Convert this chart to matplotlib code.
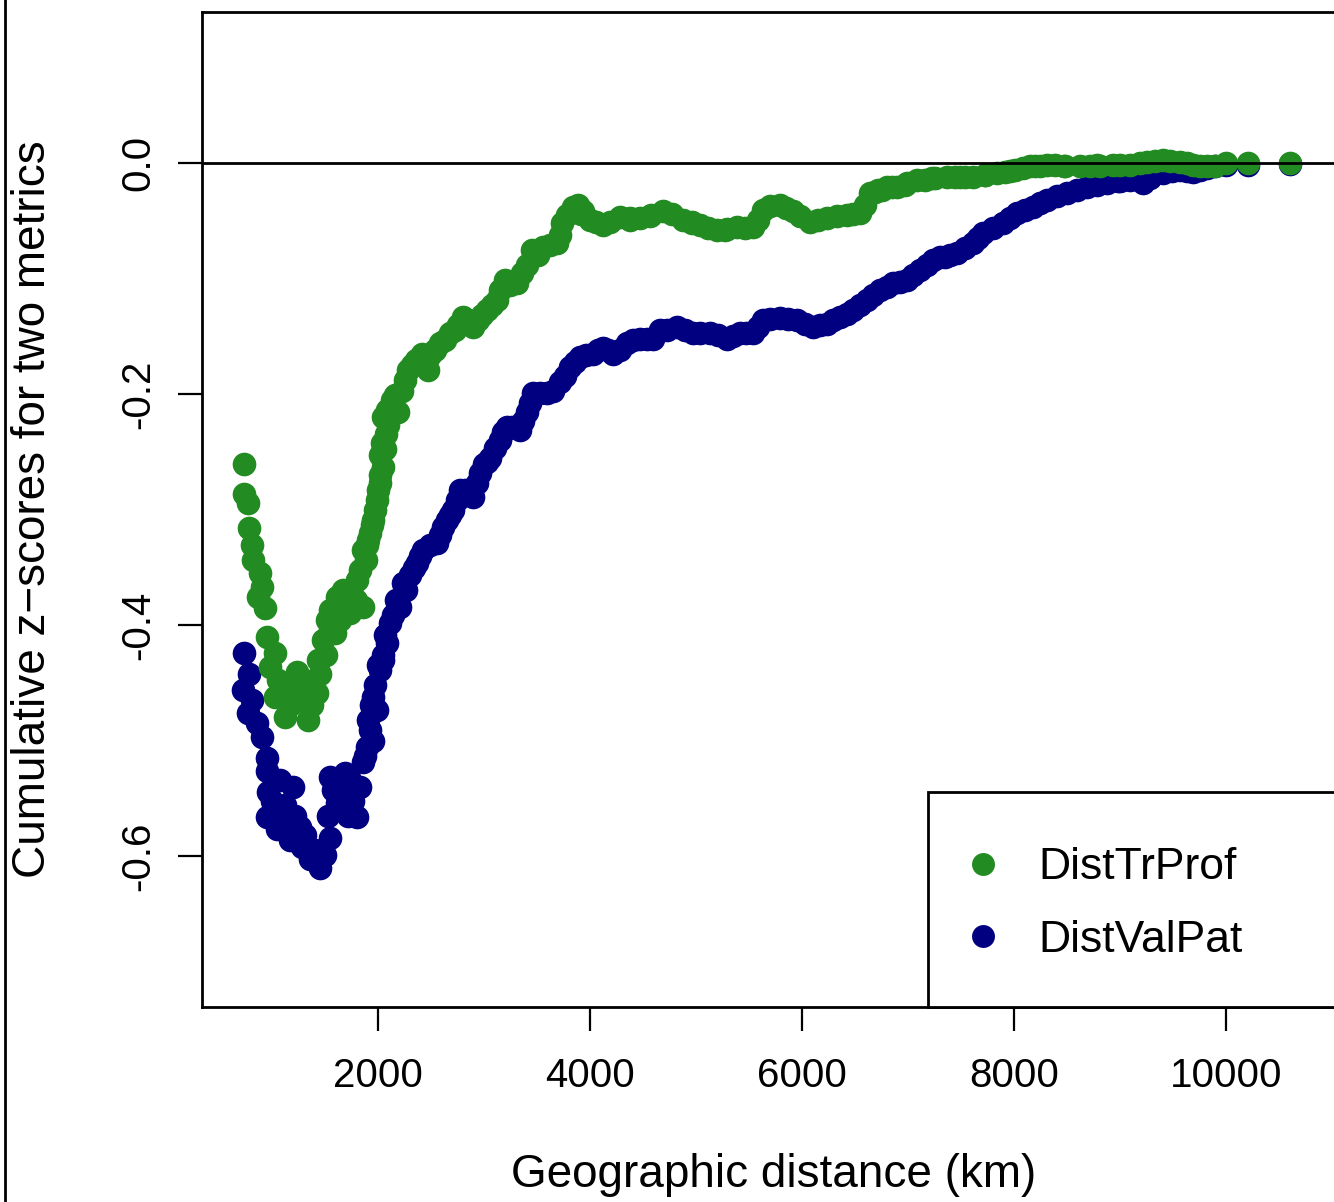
import matplotlib
matplotlib.use("Agg")
import matplotlib.pyplot as plt
from matplotlib.lines import Line2D
from matplotlib.patches import Rectangle

plt.rcParams["font.family"] = ["Liberation Sans", "DejaVu Sans"]
plt.rcParams["axes.unicode_minus"] = False

# cumulative z-scores (distance in km)
dist_tr_prof_x = [
    736, 736, 774, 783, 811, 821, 887, 906, 868, 934,
    953, 1028, 981, 1057, 1028, 1123, 1236, 1264, 1340, 1425,
    1453, 1481, 1519, 1547, 1594, 1613, 1670, 1736, 1802, 1858,
    1858, 1896, 1925, 1953, 1991, 2019, 2019, 2047, 2038, 2047,
    2132, 2189, 2283, 2415, 2472, 2585, 2679, 2802, 2896, 3028,
    3123, 3198, 3311, 3359, 3453, 3557, 3689, 3736, 3840, 3920,
    4000, 4123, 4283, 4380, 4472, 4580, 4689, 4877, 4960, 5038,
    5198, 5290, 5387, 5538, 5632, 5792, 5915, 6075, 6236, 6425,
    6547, 6642, 6717, 6802, 6896, 6990, 7085, 7230, 7368, 7490,
    7613, 7730, 7840, 7960, 8085, 8200, 8311, 8470, 8623, 8780,
    8934, 9094, 9255, 9406, 9566, 9689, 9821, 10000, 10208, 10604,
    1170, 1189, 1292, 1377, 1396, 1434, 1509, 1547, 1642, 1689,
    1755, 1792, 1830, 1887, 1906, 1943, 1972, 2000, 2019, 2066,
    2075, 2094, 2085, 2160, 2226, 2255, 2321, 2359, 2491, 2538,
    2632, 2726, 2755, 2849, 2943, 2981, 3075, 3151, 3245, 3406,
    3509, 3623, 3717, 3783, 3887, 3934, 4057, 4189, 4377, 4566,
    4774, 4962, 5113, 5274, 5462, 5585, 5698, 5849, 5981, 6151,
    6330, 6481, 6594, 6689, 6755, 6849, 6972, 7160, 7255, 7443,
    7538, 7726, 7915, 8009, 8151, 8245, 8387, 8481, 8717, 8811,
    9000, 9189, 9330, 9472, 9632, 9755, 9896,
]
dist_tr_prof_z = [
    -0.261, -0.287, -0.294, -0.316, -0.331, -0.344, -0.355, -0.367, -0.376, -0.385,
    -0.410, -0.424, -0.436, -0.448, -0.462, -0.480, -0.441, -0.465, -0.482, -0.459,
    -0.442, -0.413, -0.396, -0.387, -0.407, -0.376, -0.370, -0.390, -0.361, -0.384,
    -0.335, -0.331, -0.320, -0.309, -0.292, -0.277, -0.253, -0.263, -0.242, -0.220,
    -0.205, -0.216, -0.179, -0.165, -0.179, -0.156, -0.147, -0.133, -0.142, -0.127,
    -0.119, -0.101, -0.104, -0.095, -0.075, -0.073, -0.069, -0.052, -0.038, -0.044,
    -0.049, -0.054, -0.047, -0.049, -0.048, -0.045, -0.042, -0.049, -0.052, -0.054,
    -0.058, -0.057, -0.055, -0.055, -0.041, -0.036, -0.042, -0.051, -0.048, -0.045,
    -0.043, -0.026, -0.023, -0.021, -0.021, -0.017, -0.015, -0.013, -0.012, -0.012,
    -0.012, -0.010, -0.009, -0.007, -0.004, -0.003, -0.002, -0.003, -0.003, -0.002,
    -0.002, -0.002, 0.001, 0.003, 0.001, -0.002, -0.003, 0.000, 0.000, 0.000,
    -0.469, -0.456, -0.452, -0.469, -0.448, -0.430, -0.426, -0.404, -0.396, -0.387,
    -0.374, -0.378, -0.352, -0.344, -0.326, -0.313, -0.300, -0.283, -0.270, -0.248,
    -0.235, -0.227, -0.214, -0.201, -0.197, -0.188, -0.175, -0.171, -0.166, -0.162,
    -0.153, -0.145, -0.140, -0.136, -0.136, -0.132, -0.123, -0.110, -0.106, -0.088,
    -0.080, -0.071, -0.062, -0.045, -0.036, -0.042, -0.051, -0.051, -0.048, -0.046,
    -0.044, -0.051, -0.056, -0.058, -0.056, -0.049, -0.037, -0.039, -0.046, -0.049,
    -0.046, -0.044, -0.036, -0.025, -0.023, -0.021, -0.019, -0.015, -0.013, -0.012,
    -0.012, -0.010, -0.008, -0.006, -0.003, -0.003, -0.002, -0.003, -0.003, -0.003,
    -0.002, 0.000, 0.002, 0.002, 0.000, -0.003, -0.003,
]

dist_val_pat_x = [
    736, 783, 726, 811, 774, 858, 906, 953, 953, 1075,
    962, 1198, 953, 1047, 1170, 1264, 1283, 1358, 1453, 1547,
    1547, 1613, 1689, 1802, 1830, 1858, 1896, 1925, 1953, 1953,
    1991, 2019, 2047, 2085, 2113, 2208, 2236, 2368, 2425, 2557,
    2613, 2708, 2774, 2896, 2962, 3057, 3151, 3217, 3340, 3406,
    3462, 3594, 3717, 3811, 3906, 4028, 4123, 4217, 4349, 4472,
    4594, 4660, 4821, 4972, 5132, 5292, 5415, 5538, 5632, 5792,
    5953, 6104, 6236, 6358, 6481, 6613, 6736, 6858, 6991, 7113,
    7236, 7349, 7462, 7613, 7708, 7896, 8028, 8179, 8311, 8500,
    8689, 8877, 9000, 9094, 9217, 9406, 9566, 9689, 9821, 10000,
    10208, 10604,
    1000, 1123, 1094, 1217, 1311, 1406, 1500, 1528, 1575, 1642,
    1736, 1764, 1717, 1877, 1906, 1934, 1972, 2000, 2047, 2066,
    2142, 2170, 2264, 2302, 2340, 2396, 2491, 2585, 2651, 2679,
    2745, 2821, 2849, 2934, 3000, 3028, 3104, 3179, 3264, 3368,
    3434, 3528, 3651, 3764, 3858, 3962, 4075, 4170, 4283, 4406,
    4538, 4726, 4896, 5038, 5208, 5349, 5472, 5585, 5698, 5868,
    6028, 6170, 6292, 6425, 6547, 6670, 6802, 6925, 7047, 7179,
    7302, 7396, 7538, 7660, 7802, 7962, 8104, 8245, 8406, 8594,
    8783, 8981, 9283, 9491, 9632, 9755, 9896,
]
dist_val_pat_z = [
    -0.424, -0.442, -0.456, -0.465, -0.476, -0.485, -0.497, -0.515, -0.526, -0.534,
    -0.545, -0.540, -0.566, -0.577, -0.586, -0.575, -0.592, -0.603, -0.610, -0.584,
    -0.532, -0.554, -0.528, -0.566, -0.540, -0.519, -0.506, -0.491, -0.462, -0.500,
    -0.474, -0.439, -0.430, -0.416, -0.398, -0.384, -0.364, -0.346, -0.335, -0.329,
    -0.315, -0.300, -0.283, -0.289, -0.268, -0.255, -0.240, -0.229, -0.231, -0.216,
    -0.199, -0.199, -0.190, -0.177, -0.168, -0.165, -0.160, -0.165, -0.156, -0.152,
    -0.152, -0.145, -0.142, -0.147, -0.147, -0.152, -0.147, -0.147, -0.136, -0.134,
    -0.136, -0.142, -0.139, -0.133, -0.127, -0.119, -0.110, -0.104, -0.101, -0.093,
    -0.084, -0.081, -0.078, -0.069, -0.061, -0.052, -0.043, -0.038, -0.032, -0.026,
    -0.021, -0.017, -0.016, -0.015, -0.017, -0.009, -0.006, -0.008, -0.004, -0.002,
    -0.002, -0.001,
    -0.552, -0.556, -0.573, -0.565, -0.582, -0.595, -0.599, -0.565, -0.543, -0.539,
    -0.534, -0.552, -0.565, -0.513, -0.482, -0.469, -0.452, -0.435, -0.426, -0.409,
    -0.391, -0.378, -0.370, -0.357, -0.351, -0.340, -0.331, -0.322, -0.309, -0.305,
    -0.292, -0.283, -0.287, -0.277, -0.261, -0.259, -0.247, -0.233, -0.229, -0.223,
    -0.208, -0.199, -0.197, -0.184, -0.172, -0.166, -0.162, -0.162, -0.162, -0.153,
    -0.152, -0.145, -0.145, -0.147, -0.149, -0.150, -0.147, -0.142, -0.135, -0.135,
    -0.139, -0.140, -0.136, -0.131, -0.123, -0.114, -0.107, -0.103, -0.097, -0.088,
    -0.081, -0.080, -0.074, -0.065, -0.056, -0.048, -0.041, -0.035, -0.029, -0.023,
    -0.019, -0.016, -0.013, -0.007, -0.007, -0.006, -0.003,
]

labels = ["DistTrProf", "DistValPat"]
colors = ["#228B22", "#000080"]
x_ticks = [2000, 4000, 6000, 8000, 10000]
y_ticks = [-0.6, -0.4, -0.2, 0.0]

W, H = 1334, 1202
fig = plt.figure(figsize=(W / 100, H / 100), dpi=100)

# plot region runs past the right edge of the picture (cropped figure)
left, right, bottom, top = 202, 1345, 195, 1190
ax = fig.add_axes([left / W, bottom / H, (right - left) / W, (top - bottom) / H])

ax.scatter(dist_val_pat_x, dist_val_pat_z, s=290, color=colors[1], linewidths=0, zorder=2)
ax.scatter(dist_tr_prof_x, dist_tr_prof_z, s=290, color=colors[0], linewidths=0, zorder=3)
ax.axhline(0, color="black", lw=2, zorder=4)

ax.set_xlim(340, 11123)
ax.set_ylim(-0.7307, 0.1307)
ax.set_xticks(x_ticks)
ax.set_xticklabels([str(v) for v in x_ticks])
ax.set_yticks(y_ticks)
ax.set_yticklabels([f"{v:.1f}" for v in y_ticks], rotation=90, va="center")

for side in ["left", "top", "bottom", "right"]:
    ax.spines[side].set_linewidth(2)
ax.tick_params(axis="both", direction="out", length=17, width=1.6, labelsize=29)
ax.tick_params(axis="x", pad=19)
ax.tick_params(axis="y", pad=15)

ax.set_xlabel("Geographic distance (km)", fontsize=33)
ax.xaxis.label.set_va("center")
ax.xaxis.set_label_coords(0.5, -0.169)
ax.set_ylabel("Cumulative z\u2212scores for two metrics", fontsize=33)
ax.yaxis.label.set_va("center")
ax.yaxis.set_label_coords(-0.148, 0.5)

# legend box, anchored bottom-right like R's legend("bottomright")
ax.add_patch(Rectangle((0.6352, 0), 0.3648, 0.2161, transform=ax.transAxes,
                       facecolor="white", edgecolor="black", lw=2, zorder=5,
                       clip_on=False))
handles = [Line2D([], [], ls="none", marker="o", ms=16.5, mec="none", mfc=c) for c in colors]
ax.legend(handles, labels, loc="center left", bbox_to_anchor=(0.664, 0.1035),
          frameon=False, fontsize=32, handlelength=1.0, handletextpad=0.75,
          borderpad=0, borderaxespad=0, labelspacing=0.7).set_zorder(6)

# left edge border of the cropped picture
fig.add_artist(Line2D([5 / W, 5 / W], [0, 1], color="black", lw=2))

fig.savefig("out.png", dpi=100)
